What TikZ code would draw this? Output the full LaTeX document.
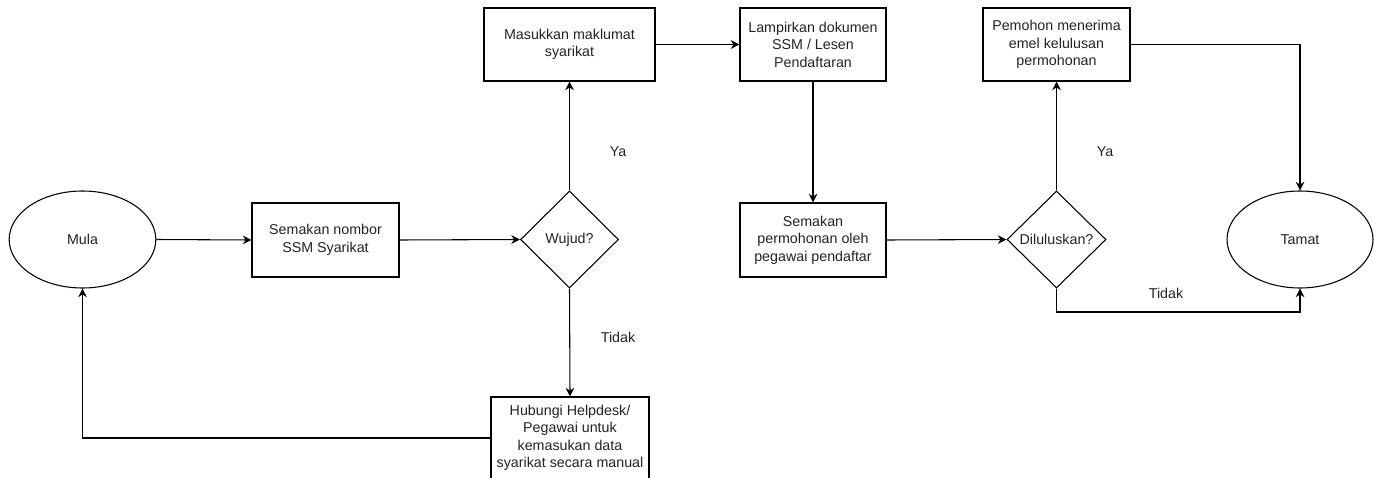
\documentclass[tikz,border=0pt]{standalone}
\usepackage{fontspec}
\setmainfont{Liberation Sans}
\usetikzlibrary{shapes.geometric,arrows.meta}
\definecolor{txt}{HTML}{222222}
\begin{document}
\begin{tikzpicture}[x=0.75pt,y=-0.75pt,
  every node/.style={font=\fontsize{10.7pt}{13.1pt}\selectfont, text=txt, align=center},
  procbox/.style={draw, line width=0.8pt, rectangle, inner sep=0pt, minimum height=55pt},
  termnode/.style={draw, line width=0.8pt, ellipse, inner sep=0pt, minimum width=110pt, minimum height=72.75pt},
  decnode/.style={draw, line width=0.8pt, diamond, shape aspect=1, inner sep=0pt, minimum width=73.5pt, minimum height=72.75pt},
  arr/.style={line width=0.8pt, -{Stealth[length=6.5pt,width=6.5pt]}},
  lbl/.style={draw=none}]
\useasboundingbox (0,0) rectangle (1377,478);
\node[termnode] (mula) at (82.5,239.5) {Mula};
\node[procbox, minimum width=110.25pt, minimum height=55.5pt] (sem1) at (325.5,240) {Semakan nombor\\SSM Syarikat};
\node[decnode] (wujud) at (569.5,239.5) {Wujud?};
\node[procbox, minimum width=128.25pt, minimum height=54.75pt] (masuk) at (569.5,44.5) {Masukkan maklumat\\syarikat};
\node[procbox, minimum width=118.5pt, minimum height=61.5pt] (hub) at (570,438) {Hubungi Helpdesk/\\Pegawai untuk\\kemasukan data\\syarikat secara manual};
\node[procbox, minimum width=109.5pt, minimum height=54.75pt] (lamp) at (813,44.5) {Lampirkan dokumen\\SSM / Lesen\\Pendaftaran};
\node[procbox, minimum width=109.5pt, minimum height=55.5pt] (sem2) at (813,240) {Semakan\\permohonan oleh\\pegawai pendaftar};
\node[decnode, minimum width=74.25pt] (dilu) at (1056.5,239.5) {Diluluskan?};
\node[procbox, minimum width=110.25pt, minimum height=54.75pt] (pem) at (1056.5,44.5) {Pemohon menerima\\emel kelulusan\\permohonan};
\node[termnode, minimum width=109.5pt] (tamat) at (1300,239.5) {Tamat};
\node[lbl] (ya1) at (618,152) {Ya};
\node[lbl] (tidak1) at (618,337) {Tidak};
\node[lbl] (ya2) at (1105,152) {Ya};
\node[lbl] (tidak2) at (1166,293) {Tidak};
\coordinate (t1) at (1300,312);
\draw[arr] (mula.east) -- (sem1.west);
\draw[arr] (sem1.east) -- (wujud.west);
\draw[arr] (wujud.north) -- (masuk.south);
\draw[arr] (wujud.south) -- (hub.north);
\draw[arr] (hub.west) -| (mula.south);
\draw[arr] (masuk.east) -- (lamp.west);
\draw[arr] (lamp.south) -- (sem2.north);
\draw[arr] (sem2.east) -- (dilu.west);
\draw[arr] (dilu.north) -- (pem.south);
\draw[arr] (pem.east) -| (tamat.north);
\draw[arr] (dilu.south) |- (t1) -- (tamat.south);
\end{tikzpicture}
\end{document}
